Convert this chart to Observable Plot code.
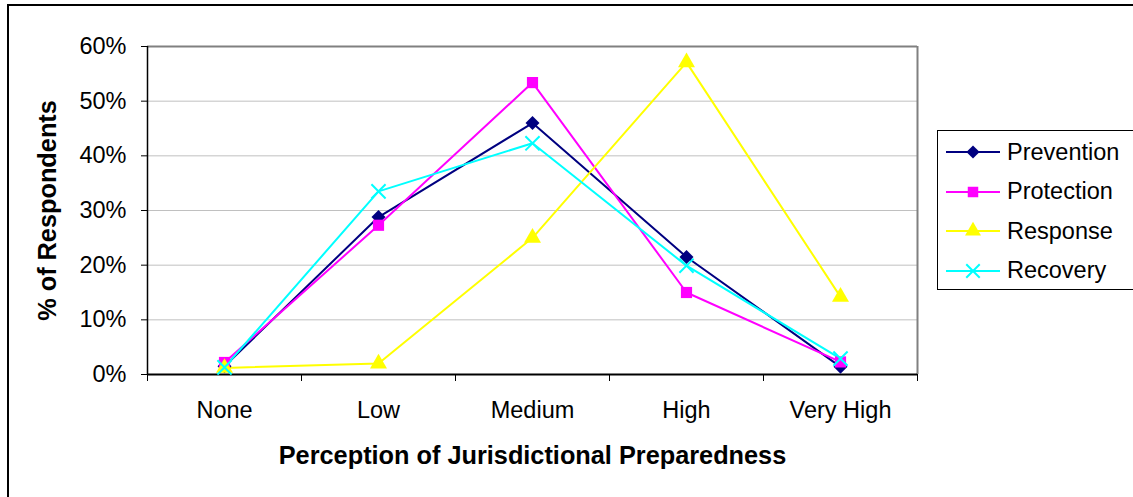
<!DOCTYPE html>
<html>
<head>
<meta charset="utf-8">
<script src="https://cdn.jsdelivr.net/npm/d3@7"></script>
<script src="https://cdn.jsdelivr.net/npm/@observablehq/plot@0.6"></script>
<style>
  html, body { margin: 0; padding: 0; background: #fff; }
  #wrap { position: relative; width: 1133px; height: 497px; overflow: hidden; font-family: "Liberation Sans", Arial, sans-serif; }
  #border { position: absolute; left: 7px; top: 4px; width: 1140px; height: 520px; border: 2px solid #000; box-sizing: border-box; }
  #chart { position: absolute; left: 0; top: 0; }
  #legend { position: absolute; left: 937px; top: 130px; width: 200px; height: 160px; border: 1px solid #000; box-sizing: border-box; background: #fff; }
  .item { position: absolute; left: 8px; height: 30px; display: flex; align-items: center; font-size: 23.5px; color: #000; }
  .item svg { margin-right: 7px; }
  svg [aria-label="x-axis label"], svg [aria-label="y-axis label"] { font-weight: bold; font-size: 25.3px; }
</style>
</head>
<body>
<div id="wrap">
  <div id="border"></div>
  <div id="chart"></div>
  <div id="legend"></div>
</div>
<script>
const categories = ["None", "Low", "Medium", "High", "Very High"];
const seriesNames = ["Prevention", "Protection", "Response", "Recovery"];
const prevention = [0.015, 0.288, 0.460, 0.215, 0.014];
const protection = [0.022, 0.273, 0.534, 0.150, 0.023];
const response   = [0.012, 0.020, 0.250, 0.571, 0.142];
const recovery   = [0.013, 0.335, 0.423, 0.199, 0.029];
const colors  = ["#000080", "#FF00FF", "#FFFF00", "#00FFFF"];
const symbols = ["diamond2", "square", "triangle", "times"];
const yTicks = [0, 0.1, 0.2, 0.3, 0.4, 0.5, 0.6];

const seriesValues = [prevention, protection, response, recovery];
const data = seriesNames.flatMap((s, si) =>
  seriesValues[si].map((v, i) => ({series: s, idx: i, value: v})));

const boundaries = d3.range(categories.length + 1).map(i => i - 0.5);

const chart = Plot.plot({
  width: 1133,
  height: 497,
  marginLeft: 147,
  marginRight: 216,
  marginTop: 46,
  marginBottom: 123,
  style: {fontFamily: "'Liberation Sans', Arial, sans-serif", fontSize: "23.5px", background: "transparent", color: "#000"},
  x: {type: "linear", domain: [-0.5, categories.length - 0.5]},
  y: {domain: [0, 0.6]},
  color: {domain: seriesNames, range: colors},
  symbol: {domain: seriesNames, range: symbols},
  marks: [
    Plot.gridY(yTicks.slice(1, -1), {stroke: "#c0c0c0", strokeOpacity: 1, strokeWidth: 1}),
    Plot.ruleY([0.6], {stroke: "#808080", strokeWidth: 2}),
    Plot.ruleX([categories.length - 0.5], {stroke: "#808080", strokeWidth: 2}),
    Plot.ruleX([-0.5], {stroke: "#000", strokeWidth: 1.5}),
    Plot.ruleY([0], {stroke: "#000", strokeWidth: 2}),
    Plot.axisY({ticks: yTicks, tickFormat: d3.format(".0%"), tickSize: 6, tickPadding: 15,
      label: "% of Respondents", labelAnchor: "center", labelArrow: "none", labelOffset: 109}),
    Plot.axisX({ticks: boundaries, tickFormat: () => "", tickSize: 7, label: null}),
    Plot.axisX({ticks: d3.range(categories.length), tickFormat: i => categories[i], tickSize: 0, tickPadding: 27,
      label: "Perception of Jurisdictional Preparedness", labelAnchor: "center", labelArrow: "none", labelOffset: 89}),
    Plot.line(data, {x: "idx", y: "value", z: "series", stroke: "series", strokeWidth: 2}),
    Plot.dot(data.filter(d => d.series !== "Recovery"), {x: "idx", y: "value", symbol: "series", fill: "series", r: 6.3, stroke: "none"}),
    Plot.dot(data.filter(d => d.series === "Recovery"), {x: "idx", y: "value", symbol: "series", stroke: "series", r: 6.5, strokeWidth: 2})
  ]
});
document.getElementById("chart").appendChild(chart);

// legend
const legend = document.getElementById("legend");
const shapes = [d3.symbolDiamond2, d3.symbolSquare, d3.symbolTriangle, d3.symbolTimes];
seriesNames.forEach((name, i) => {
  const item = document.createElement("div");
  item.className = "item";
  item.style.top = (6 + i * 39.5) + "px";
  const svg = d3.create("svg").attr("width", 54).attr("height", 20);
  svg.append("line").attr("x1", 0).attr("x2", 54).attr("y1", 10).attr("y2", 10)
    .attr("stroke", colors[i]).attr("stroke-width", 2);
  const path = svg.append("path").attr("transform", "translate(27,10)")
    .attr("d", d3.symbol(shapes[i], i === 3 ? 120 : 110)());
  if (i === 3) path.attr("fill", "none").attr("stroke", colors[i]).attr("stroke-width", 2);
  else path.attr("fill", colors[i]);
  item.appendChild(svg.node());
  const span = document.createElement("span");
  span.textContent = name;
  item.appendChild(span);
  legend.appendChild(item);
});
</script>
</body>
</html>
